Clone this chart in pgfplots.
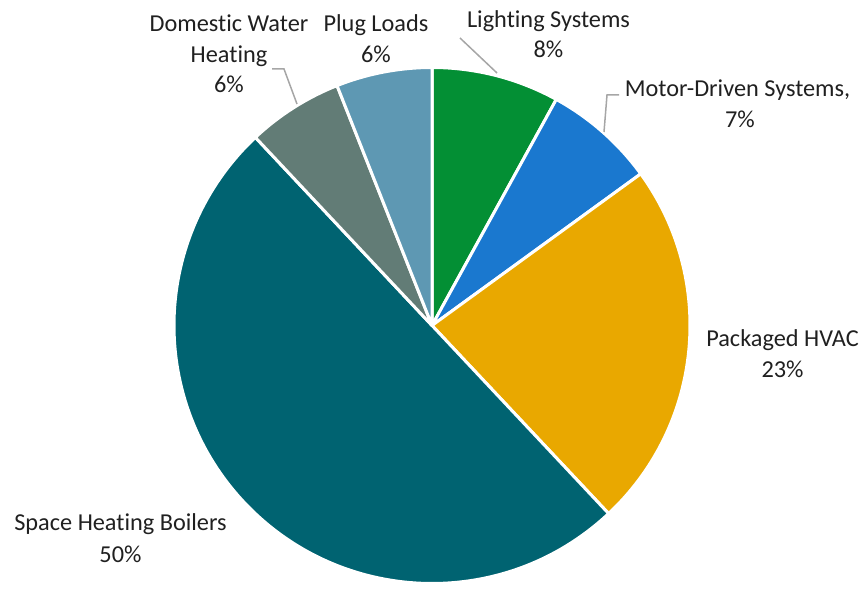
\documentclass[border=0pt]{standalone}
\usepackage{fontspec}
\setmainfont{Carlito}[Ligatures=NoCommon]
\usepackage{pgfplots}
\usepackage{pgfplotstable}
\pgfplotsset{compat=1.18}

% slice colours, in table order
\definecolor{slice0}{HTML}{038F34}
\definecolor{slice1}{HTML}{1A78CF}
\definecolor{slice2}{HTML}{E9A800}
\definecolor{slice3}{HTML}{006371}
\definecolor{slice4}{HTML}{627C76}
\definecolor{slice5}{HTML}{5E98B3}
\definecolor{leader}{HTML}{A6A6A6}
\definecolor{txt}{HTML}{202020}

% share of energy use (%), clockwise from 12 o'clock
\pgfplotstableread{
slice value
Lighting 8
Motor 7
HVAC 23
Boilers 50
Domestic 6
Plug 6
}\piedata

\def\pieX{432}\def\pieY{256.5}\def\pieR{258}

% start / end angle of each slice
\gdef\cum{90}
\foreach \i in {0,...,5}{%
  \pgfplotstablegetelem{\i}{value}\of\piedata
  \pgfmathsetmacro\nxt{\cum-3.6*\pgfplotsretval}%
  \expandafter\xdef\csname sa\i\endcsname{\cum}%
  \expandafter\xdef\csname ea\i\endcsname{\nxt}%
  \xdef\cum{\nxt}%
}

\begin{document}
\begin{tikzpicture}
\begin{axis}[
    x=1bp, y=1bp,
    xmin=0, xmax=867,
    ymin=0, ymax=582,
    hide axis,
    clip=false,
]
\path (axis cs:0,0) rectangle (axis cs:867,582);

\pgfplotsinvokeforeach{0,...,5}{
  \fill[slice#1, draw=white, line width=3bp, line join=round]
    (axis cs:\pieX,\pieY)
    -- (axis cs:{\pieX+\pieR*cos(\csname sa#1\endcsname)},{\pieY+\pieR*sin(\csname sa#1\endcsname)})
    arc[start angle=\csname sa#1\endcsname, end angle=\csname ea#1\endcsname, radius=\pieR bp]
    -- cycle;
}

% leader lines
\draw[leader, line width=1.5bp] (axis cs:460,544) -- (axis cs:497,509);
\draw[leader, line width=1.5bp] (axis cs:619,487) -- (axis cs:607,487) -- (axis cs:604,450);
\draw[leader, line width=1.5bp] (axis cs:272,513) -- (axis cs:284,513) -- (axis cs:297,478);

% labels
\tikzset{lbl/.style={anchor=base, inner sep=0pt, text=txt, font=\fontsize{24.3bp}{31bp}\selectfont}}
\node[lbl] at (axis cs:548.5,554) {Lighting Systems};
\node[lbl] at (axis cs:548.5,524) {8\%};
\node[lbl] at (axis cs:737.5,485) {Motor-Driven Systems,};
\node[lbl] at (axis cs:740,454) {7\%};
\node[lbl] at (axis cs:782.5,235) {Packaged HVAC};
\node[lbl] at (axis cs:782.5,204) {23\%};
\node[lbl] at (axis cs:120.5,52) {Space Heating Boilers};
\node[lbl] at (axis cs:120.5,20) {50\%};
\node[lbl] at (axis cs:229,550) {Domestic Water};
\node[lbl] at (axis cs:229,519) {Heating};
\node[lbl] at (axis cs:229,489) {6\%};
\node[lbl] at (axis cs:376,550) {Plug Loads};
\node[lbl] at (axis cs:376,519) {6\%};
\end{axis}
\end{tikzpicture}
\end{document}
